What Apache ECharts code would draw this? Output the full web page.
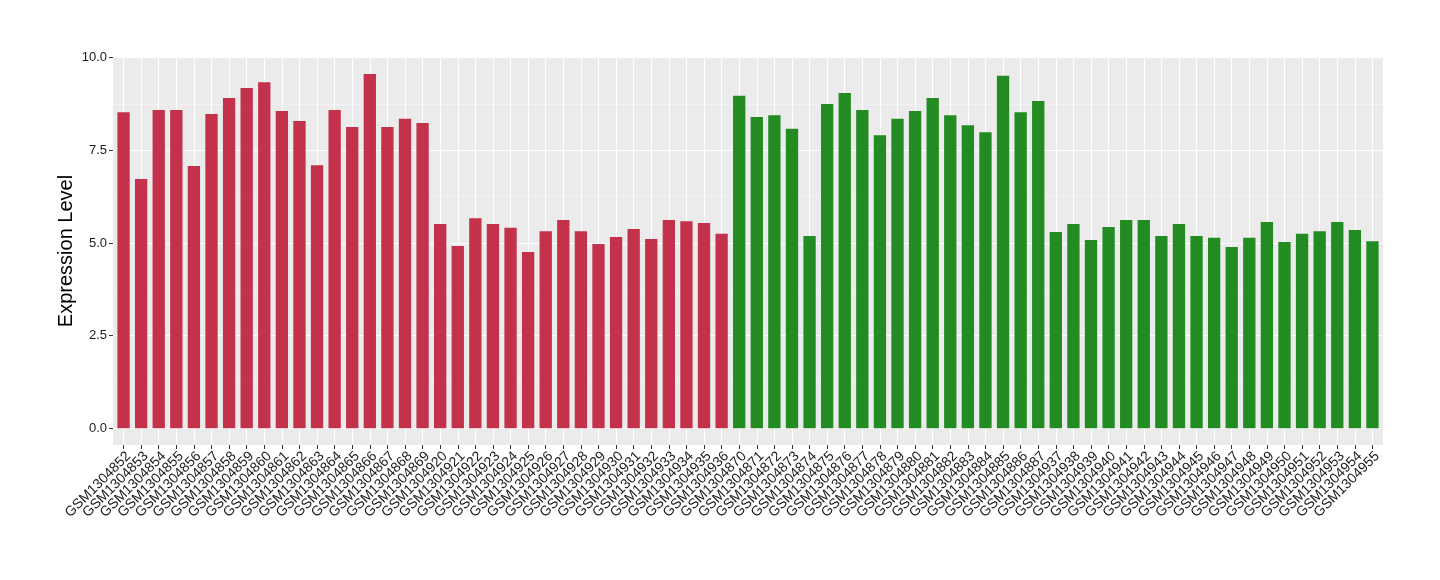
<!DOCTYPE html>
<html>
<head>
<meta charset="utf-8">
<script src="https://cdn.jsdelivr.net/npm/echarts@6/dist/echarts.min.js"></script>
<style>html,body{margin:0;padding:0;background:#fff;}#c{width:1440px;height:580px;}</style>
</head>
<body>
<div id="c"></div>
<script>
const categories = [
  'GSM1304852','GSM1304853','GSM1304854','GSM1304855','GSM1304856','GSM1304857','GSM1304858','GSM1304859','GSM1304860',
  'GSM1304861','GSM1304862','GSM1304863','GSM1304864','GSM1304865','GSM1304866','GSM1304867','GSM1304868','GSM1304869',
  'GSM1304920','GSM1304921','GSM1304922','GSM1304923','GSM1304924','GSM1304925','GSM1304926','GSM1304927','GSM1304928',
  'GSM1304929','GSM1304930','GSM1304931','GSM1304932','GSM1304933','GSM1304934','GSM1304935','GSM1304936',
  'GSM1304870','GSM1304871','GSM1304872','GSM1304873','GSM1304874','GSM1304875','GSM1304876','GSM1304877','GSM1304878',
  'GSM1304879','GSM1304880','GSM1304881','GSM1304882','GSM1304883','GSM1304884','GSM1304885','GSM1304886','GSM1304887',
  'GSM1304937','GSM1304938','GSM1304939','GSM1304940','GSM1304941','GSM1304942','GSM1304943','GSM1304944','GSM1304945',
  'GSM1304946','GSM1304947','GSM1304948','GSM1304949','GSM1304950','GSM1304951','GSM1304952','GSM1304953','GSM1304954','GSM1304955'
];
const groupA = [8.53,6.73,8.59,8.59,7.08,8.48,8.91,9.18,9.34,8.56,8.29,7.10,8.59,8.13,9.56,8.13,8.35,8.24,
  5.51,4.92,5.67,5.51,5.41,4.76,5.32,5.62,5.32,4.97,5.16,5.38,5.11,5.62,5.59,5.54,5.25];
const groupB = [8.97,8.40,8.45,8.08,5.19,8.75,9.05,8.59,7.91,8.35,8.56,8.91,8.45,8.18,7.99,9.51,8.53,8.83,
  5.30,5.51,5.08,5.43,5.62,5.62,5.19,5.51,5.19,5.14,4.89,5.14,5.57,5.03,5.25,5.32,5.57,5.35,5.05];
const yTicks = [0, 2.5, 5, 7.5, 10];
const colorA = '#C3314A';
const colorB = '#228B22';

const data = [];
groupA.forEach(v => data.push({value: v, itemStyle: {color: colorA}}));
groupB.forEach(v => data.push({value: v, itemStyle: {color: colorB}}));

const PL = 113, PR = 1383, PT = 57, PB = 445;
const n = categories.length;
const unit = (PR - PL) / (n - 1 + 1.2);
const firstC = PL + 0.6 * unit, lastC = PR - 0.6 * unit;
const y0 = 428.3, y10 = 57.7;
const FONT = 'Liberation Sans, Arial, sans-serif';

const chart = echarts.init(document.getElementById('c'), null, {renderer: 'canvas'});
chart.setOption({
  animation: false,
  backgroundColor: '#ffffff',
  graphic: [{
    type: 'rect', z: -10, silent: true,
    shape: {x: PL, y: PT, width: PR - PL, height: PB - PT},
    style: {fill: '#EBEBEB'}
  }, {
    type: 'text', z: 10,
    x: 66, y: (PT + PB) / 2, rotation: Math.PI / 2,
    style: {text: 'Expression Level', fontSize: 20, fontFamily: FONT, fill: '#000', align: 'center', verticalAlign: 'middle'}
  }],
  grid: [
    {left: firstC - unit / 2, width: unit * n, top: y10, height: y0 - y10, containLabel: false},
    {left: firstC, width: lastC - firstC, top: PT, height: PB - PT, containLabel: false},
    {left: PL, width: PR - PL, top: y10, height: y0 - y10, containLabel: false}
  ],
  xAxis: [
    {gridIndex: 0, type: 'category', data: categories, show: false},
    {gridIndex: 1, type: 'category', data: categories, boundaryGap: false,
      axisLine: {show: false},
      axisTick: {show: true, length: 4, lineStyle: {color: '#333333', width: 1}},
      axisLabel: {interval: 0, rotate: 45, fontSize: 14, color: '#1A1A1A', margin: 4,
        verticalAlign: 'top', fontFamily: FONT},
      splitLine: {show: true, interval: 0, lineStyle: {color: '#FFFFFF', width: 1.1}}},
    {gridIndex: 2, type: 'value', min: 0, max: 1, show: false}
  ],
  yAxis: [
    {gridIndex: 0, type: 'value', min: 0, max: 10, show: false},
    {gridIndex: 1, type: 'value', min: 0, max: 1, show: false},
    {gridIndex: 2, type: 'value', min: yTicks[0], max: yTicks[yTicks.length - 1], interval: 2.5,
      axisLine: {show: false},
      axisTick: {show: true, length: 4, lineStyle: {color: '#333333', width: 1}},
      axisLabel: {fontSize: 13, color: '#1A1A1A', margin: 6, fontFamily: FONT,
        formatter: v => v.toFixed(1)},
      splitLine: {show: true, lineStyle: {color: '#FFFFFF', width: 1.1}},
      minorTick: {show: false, splitNumber: 2},
      minorSplitLine: {show: true, lineStyle: {color: '#F7F7F7', width: 0.6}}}
  ],
  series: [{
    type: 'bar', xAxisIndex: 0, yAxisIndex: 0,
    data: data, barWidth: '70%', z: 5
  }]
});
</script>
</body>
</html>
